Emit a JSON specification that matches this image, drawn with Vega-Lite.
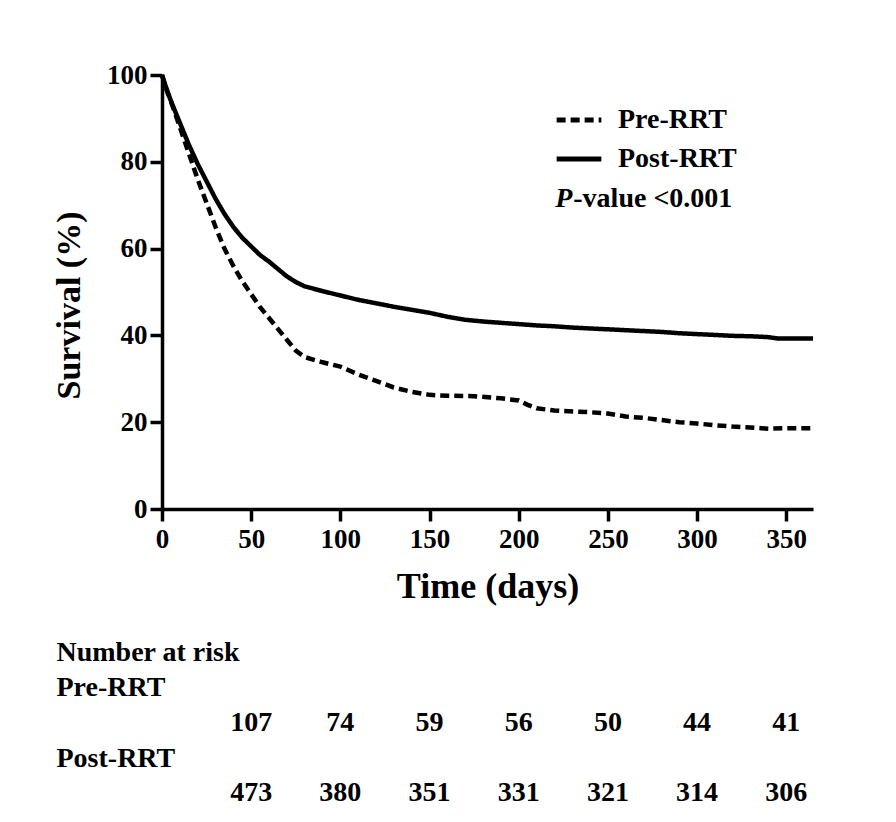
{
  "$schema": "https://vega.github.io/schema/vega-lite/v6.json",
  "background": "white",
  "padding": {"left": 52, "top": 61, "right": 10, "bottom": 5},
  "spacing": 31,
  "config": {
    "view": {"stroke": null},
    "font": "Liberation Serif",
    "axis": {
      "labelFont": "Liberation Serif", "labelFontWeight": "bold", "labelColor": "black",
      "titleFont": "Liberation Serif", "titleFontWeight": "bold", "titleColor": "black",
      "domainColor": "black", "tickColor": "black", "grid": false
    }
  },
  "datasets": {
    "curves": [
      {"group": "Post-RRT", "time": 0, "survival": 100},
      {"group": "Post-RRT", "time": 2, "survival": 97.5},
      {"group": "Post-RRT", "time": 5, "survival": 94},
      {"group": "Post-RRT", "time": 10, "survival": 89},
      {"group": "Post-RRT", "time": 15, "survival": 84},
      {"group": "Post-RRT", "time": 20, "survival": 79.5},
      {"group": "Post-RRT", "time": 25, "survival": 75.5},
      {"group": "Post-RRT", "time": 30, "survival": 71.5},
      {"group": "Post-RRT", "time": 35, "survival": 68},
      {"group": "Post-RRT", "time": 40, "survival": 65},
      {"group": "Post-RRT", "time": 45, "survival": 62.5},
      {"group": "Post-RRT", "time": 50, "survival": 60.5},
      {"group": "Post-RRT", "time": 55, "survival": 58.5},
      {"group": "Post-RRT", "time": 60, "survival": 57},
      {"group": "Post-RRT", "time": 65, "survival": 55.3},
      {"group": "Post-RRT", "time": 70, "survival": 53.6},
      {"group": "Post-RRT", "time": 75, "survival": 52.3},
      {"group": "Post-RRT", "time": 80, "survival": 51.3},
      {"group": "Post-RRT", "time": 90, "survival": 50.2},
      {"group": "Post-RRT", "time": 100, "survival": 49.2},
      {"group": "Post-RRT", "time": 110, "survival": 48.2},
      {"group": "Post-RRT", "time": 120, "survival": 47.4},
      {"group": "Post-RRT", "time": 130, "survival": 46.6},
      {"group": "Post-RRT", "time": 140, "survival": 45.9},
      {"group": "Post-RRT", "time": 150, "survival": 45.2},
      {"group": "Post-RRT", "time": 160, "survival": 44.3},
      {"group": "Post-RRT", "time": 170, "survival": 43.6},
      {"group": "Post-RRT", "time": 180, "survival": 43.2},
      {"group": "Post-RRT", "time": 190, "survival": 42.9},
      {"group": "Post-RRT", "time": 200, "survival": 42.6},
      {"group": "Post-RRT", "time": 210, "survival": 42.3},
      {"group": "Post-RRT", "time": 220, "survival": 42.1},
      {"group": "Post-RRT", "time": 230, "survival": 41.8},
      {"group": "Post-RRT", "time": 240, "survival": 41.6},
      {"group": "Post-RRT", "time": 250, "survival": 41.4},
      {"group": "Post-RRT", "time": 260, "survival": 41.2},
      {"group": "Post-RRT", "time": 270, "survival": 41},
      {"group": "Post-RRT", "time": 280, "survival": 40.8},
      {"group": "Post-RRT", "time": 290, "survival": 40.5},
      {"group": "Post-RRT", "time": 300, "survival": 40.3},
      {"group": "Post-RRT", "time": 310, "survival": 40.1},
      {"group": "Post-RRT", "time": 320, "survival": 39.9},
      {"group": "Post-RRT", "time": 330, "survival": 39.8},
      {"group": "Post-RRT", "time": 340, "survival": 39.6},
      {"group": "Post-RRT", "time": 345, "survival": 39.3},
      {"group": "Post-RRT", "time": 350, "survival": 39.3},
      {"group": "Post-RRT", "time": 365, "survival": 39.3},
      {"group": "Pre-RRT", "time": 0, "survival": 100},
      {"group": "Pre-RRT", "time": 3, "survival": 96},
      {"group": "Pre-RRT", "time": 5, "survival": 94},
      {"group": "Pre-RRT", "time": 10, "survival": 88},
      {"group": "Pre-RRT", "time": 15, "survival": 82},
      {"group": "Pre-RRT", "time": 20, "survival": 76},
      {"group": "Pre-RRT", "time": 25, "survival": 70.5},
      {"group": "Pre-RRT", "time": 30, "survival": 65},
      {"group": "Pre-RRT", "time": 35, "survival": 60},
      {"group": "Pre-RRT", "time": 40, "survival": 56},
      {"group": "Pre-RRT", "time": 45, "survival": 52.5},
      {"group": "Pre-RRT", "time": 50, "survival": 49.5},
      {"group": "Pre-RRT", "time": 55, "survival": 46.5},
      {"group": "Pre-RRT", "time": 60, "survival": 44},
      {"group": "Pre-RRT", "time": 65, "survival": 41.5},
      {"group": "Pre-RRT", "time": 70, "survival": 39},
      {"group": "Pre-RRT", "time": 75, "survival": 36.5},
      {"group": "Pre-RRT", "time": 80, "survival": 35},
      {"group": "Pre-RRT", "time": 90, "survival": 33.8},
      {"group": "Pre-RRT", "time": 100, "survival": 32.8},
      {"group": "Pre-RRT", "time": 110, "survival": 31},
      {"group": "Pre-RRT", "time": 120, "survival": 29.5},
      {"group": "Pre-RRT", "time": 130, "survival": 28},
      {"group": "Pre-RRT", "time": 140, "survival": 27},
      {"group": "Pre-RRT", "time": 150, "survival": 26.3},
      {"group": "Pre-RRT", "time": 160, "survival": 26.1},
      {"group": "Pre-RRT", "time": 175, "survival": 26},
      {"group": "Pre-RRT", "time": 190, "survival": 25.5},
      {"group": "Pre-RRT", "time": 200, "survival": 25},
      {"group": "Pre-RRT", "time": 205, "survival": 24},
      {"group": "Pre-RRT", "time": 210, "survival": 23.2},
      {"group": "Pre-RRT", "time": 220, "survival": 22.7},
      {"group": "Pre-RRT", "time": 240, "survival": 22.3},
      {"group": "Pre-RRT", "time": 250, "survival": 22},
      {"group": "Pre-RRT", "time": 260, "survival": 21.3},
      {"group": "Pre-RRT", "time": 270, "survival": 21},
      {"group": "Pre-RRT", "time": 280, "survival": 20.5},
      {"group": "Pre-RRT", "time": 290, "survival": 20},
      {"group": "Pre-RRT", "time": 300, "survival": 19.7},
      {"group": "Pre-RRT", "time": 310, "survival": 19.3},
      {"group": "Pre-RRT", "time": 320, "survival": 19},
      {"group": "Pre-RRT", "time": 330, "survival": 18.8},
      {"group": "Pre-RRT", "time": 340, "survival": 18.5},
      {"group": "Pre-RRT", "time": 350, "survival": 18.6},
      {"group": "Pre-RRT", "time": 365, "survival": 18.6}
    ],
    "pvalue": [
      {"time": 220.5, "survival": 71.5, "p": "P", "rest": "-value <0.001"}
    ],
    "risk": [
      {"row": "pre_n", "time": 50, "n": 107},
      {"row": "pre_n", "time": 100, "n": 74},
      {"row": "pre_n", "time": 150, "n": 59},
      {"row": "pre_n", "time": 200, "n": 56},
      {"row": "pre_n", "time": 250, "n": 50},
      {"row": "pre_n", "time": 300, "n": 44},
      {"row": "pre_n", "time": 350, "n": 41},
      {"row": "post_n", "time": 50, "n": 473},
      {"row": "post_n", "time": 100, "n": 380},
      {"row": "post_n", "time": 150, "n": 351},
      {"row": "post_n", "time": 200, "n": 331},
      {"row": "post_n", "time": 250, "n": 321},
      {"row": "post_n", "time": 300, "n": 314},
      {"row": "post_n", "time": 350, "n": 306}
    ]
  },
  "vconcat": [
    {
      "width": 651,
      "height": 434,
      "layer": [
        {
          "data": {"name": "curves"},
          "mark": {"type": "line", "color": "black", "strokeWidth": 4.5, "strokeCap": "butt"},
          "encoding": {
            "x": {
              "field": "time", "type": "quantitative",
              "scale": {"domain": [0, 365], "nice": false, "zero": false},
              "axis": {
                "title": "Time (days)", "values": [0, 50, 100, 150, 200, 250, 300, 350],
                "labelFontSize": 27, "titleFontSize": 36, "domainWidth": 3.5, "tickWidth": 3.5,
                "tickSize": 12, "labelPadding": 5, "titlePadding": 17, "labelFlush": false
              }
            },
            "y": {
              "field": "survival", "type": "quantitative",
              "scale": {"domain": [0, 100], "nice": false},
              "axis": {
                "title": "Survival (%)", "values": [0, 20, 40, 60, 80, 100],
                "labelFontSize": 27, "titleFontSize": 34, "domainWidth": 3.5, "tickWidth": 3.5,
                "tickSize": 12, "labelPadding": 3, "titlePadding": 20, "labelFlush": false,
                "titleY": 230
              }
            },
            "strokeDash": {
              "field": "group", "type": "nominal",
              "scale": {"domain": ["Pre-RRT", "Post-RRT"], "range": [[9, 5], [1, 0]]},
              "legend": {
                "title": null, "orient": "none", "legendX": 392, "legendY": 20,
                "symbolType": "stroke", "symbolSize": 2000, "symbolStrokeWidth": 5,
                "symbolStrokeColor": "black", "labelFont": "Liberation Serif",
                "labelFontWeight": "bold", "labelFontSize": 28, "labelColor": "black",
                "labelOffset": 14, "rowPadding": -9, "padding": 0, "labelLimit": 300
              }
            }
          }
        },
        {
          "data": {"name": "pvalue"},
          "mark": {"type": "text", "align": "left", "baseline": "middle", "font": "Liberation Serif",
                   "fontWeight": "bold", "fontStyle": "italic", "fontSize": 28, "color": "black"},
          "encoding": {
            "x": {"field": "time", "type": "quantitative"},
            "y": {"field": "survival", "type": "quantitative"},
            "text": {"field": "p"}
          }
        },
        {
          "data": {"name": "pvalue"},
          "mark": {"type": "text", "align": "left", "baseline": "middle", "font": "Liberation Serif",
                   "fontWeight": "bold", "fontSize": 28, "color": "black", "dx": 18},
          "encoding": {
            "x": {"field": "time", "type": "quantitative"},
            "y": {"field": "survival", "type": "quantitative"},
            "text": {"field": "rest"}
          }
        }
      ]
    },
    {
      "width": 651,
      "height": 176,
      "data": {"name": "risk"},
      "mark": {"type": "text", "align": "center", "baseline": "middle", "font": "Liberation Serif",
               "fontWeight": "bold", "fontSize": 28, "color": "black"},
      "encoding": {
        "x": {
          "field": "time", "type": "quantitative",
          "scale": {"domain": [0, 365], "nice": false, "zero": false},
          "axis": null
        },
        "y": {
          "field": "row", "type": "ordinal",
          "scale": {"type": "point", "domain": ["Number at risk", "Pre-RRT", "pre_n", "Post-RRT", "post_n"], "padding": 0.5},
          "axis": {
            "title": null, "domain": false, "ticks": false, "labelAlign": "left",
            "labelPadding": 106, "labelFontSize": 28, "labelBaseline": "middle", "labelLimit": 400,
            "labelExpr": "datum.label == 'pre_n' || datum.label == 'post_n' ? '' : datum.label"
          }
        },
        "text": {"field": "n", "type": "quantitative"}
      }
    }
  ]
}
